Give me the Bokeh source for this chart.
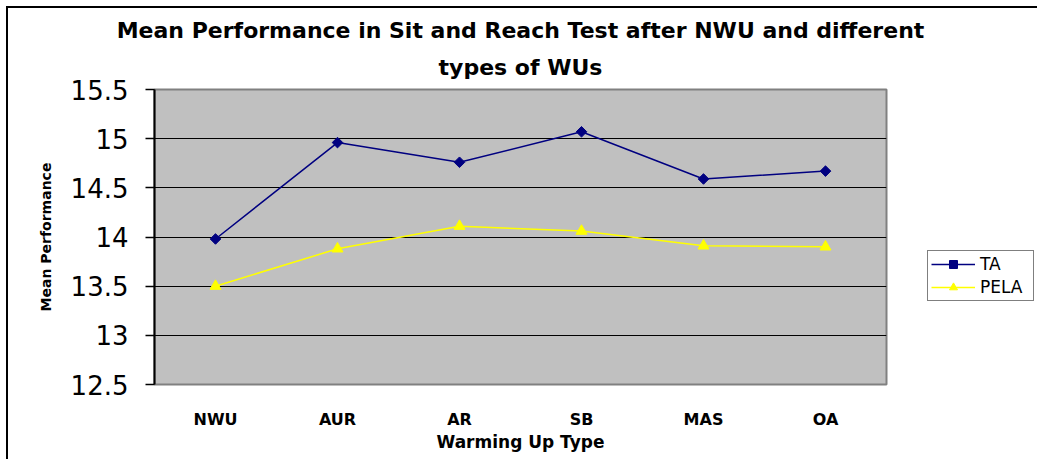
from bokeh.plotting import figure
from bokeh.models import FactorRange, Range1d, FixedTicker, Legend, LegendItem, Title
from bokeh.embed import file_html
from bokeh.resources import INLINE

categories = ["NWU", "AUR", "AR", "SB", "MAS", "OA"]
ta = [13.98, 14.96, 14.76, 15.07, 14.59, 14.67]
pela = [13.50, 13.88, 14.11, 14.06, 13.91, 13.90]
y_ticks = [12.5, 13, 13.5, 14, 14.5, 15, 15.5]
y_tick_labels = ["12.5", "13", "13.5", "14", "14.5", "15", "15.5"]
grid_ticks = [13, 13.5, 14, 14.5, 15]
title_lines = ["Mean Performance in Sit and Reach Test after NWU and different", "types of WUs"]

FONT = "DejaVu Sans"

p = figure(frame_width=732, frame_height=295,
           x_range=FactorRange(factors=categories, range_padding=0),
           y_range=Range1d(12.5, 15.5),
           output_backend="svg", toolbar_location=None,
           min_border_left=146, min_border_right=151,
           min_border_top=0, min_border_bottom=75)
p.styles = {"border-left": "2px solid black", "border-top": "2px solid black",
            "margin-left": "6px", "margin-top": "6px", "padding-top": "7px"}

p.title.visible = False
p.add_layout(Title(text=title_lines[1], align="center", text_font=FONT, text_font_size="22px",
                   text_font_style="bold", text_color="black", offset=7, standoff=20), "above")
p.add_layout(Title(text=title_lines[0], align="center", text_font=FONT, text_font_size="22px",
                   text_font_style="bold", text_color="black", offset=7, standoff=0), "above")

p.background_fill_color = "#C0C0C0"
p.border_fill_color = "white"
p.outline_line_color = "#808080"
p.outline_line_width = 2

p.xgrid.visible = False
p.ygrid.ticker = FixedTicker(ticks=grid_ticks)
p.ygrid.grid_line_color = "black"
p.ygrid.grid_line_width = 1.2
p.ygrid.grid_line_alpha = 1

yax = p.yaxis[0]
yax.ticker = FixedTicker(ticks=y_ticks)
yax.major_label_overrides = {t: l for t, l in zip(y_ticks, y_tick_labels)}
yax.axis_line_color = "black"
yax.axis_line_width = 2
yax.major_tick_out = 9
yax.major_tick_in = 0
yax.major_tick_line_color = "black"
yax.major_tick_line_width = 1.5
yax.minor_tick_line_color = None
yax.major_label_text_font = FONT
yax.major_label_text_font_size = "26px"
yax.major_label_text_color = "black"
yax.major_label_standoff = 17
yax.axis_label = "Mean Performance"
yax.axis_label_text_font = FONT
yax.axis_label_text_font_size = "14px"
yax.axis_label_text_font_style = "bold"
yax.axis_label_text_color = "black"
yax.axis_label_standoff = 14

xax = p.xaxis[0]
xax.axis_line_color = None
xax.major_tick_line_color = None
xax.minor_tick_line_color = None
xax.major_label_text_font = FONT
xax.major_label_text_font_size = "16px"
xax.major_label_text_font_style = "bold"
xax.major_label_text_color = "black"
xax.major_label_standoff = 19
xax.axis_label = "Warming Up Type"
xax.axis_label_text_font = FONT
xax.axis_label_text_font_size = "17px"
xax.axis_label_text_font_style = "bold"
xax.axis_label_text_color = "black"
xax.axis_label_standoff = 0

l1 = p.line(categories, ta, line_color="#000080", line_width=1.5)
s1 = p.scatter(categories, ta, marker="square", angle=0.785398, size=7.5,
               fill_color="#000080", line_color="#000080")
l2 = p.line(categories, pela, line_color="#FFFF00", line_width=1.5)
s2 = p.scatter(categories, pela, marker="triangle", size=11, fill_color="#FFFF00", line_color="#FFFF00")

legend = Legend(items=[LegendItem(label="TA", renderers=[l1, s1]),
                       LegendItem(label="PELA", renderers=[l2, s2])],
                location=(41, 83), orientation="vertical",
                border_line_color="black", border_line_width=1,
                background_fill_color="white", background_fill_alpha=1,
                label_text_font=FONT, label_text_font_size="17px",
                label_text_color="black",
                glyph_width=44, glyph_height=20, label_height=20,
                label_width=50, label_standoff=5,
                spacing=3, padding=3, margin=0)
p.add_layout(legend, "right")

open("out.html", "w").write(file_html(p, INLINE))
